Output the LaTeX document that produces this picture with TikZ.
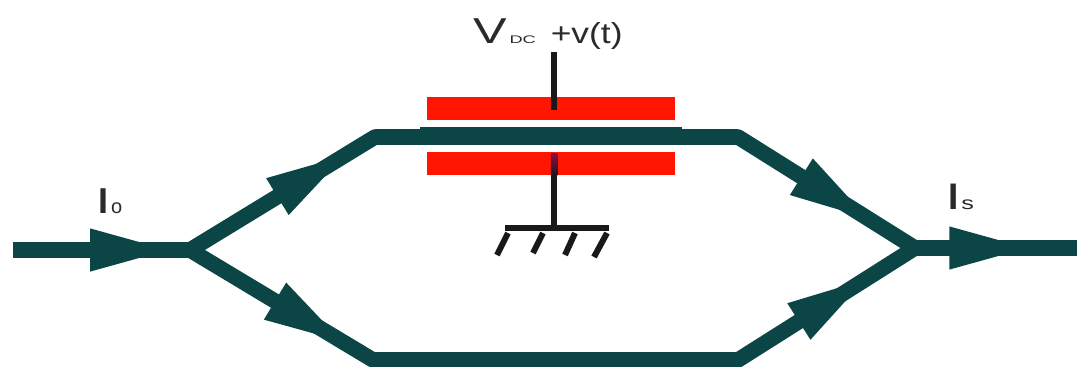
\documentclass[tikz,border=0pt]{standalone}
\usepackage{fontspec}
\setmainfont{Liberation Sans}
\usetikzlibrary{arrows.meta,decorations.markings}
\definecolor{guide}{HTML}{0C4545}
\definecolor{plate}{HTML}{FF1500}
\definecolor{lab}{HTML}{2A2A2A}
\definecolor{maroon}{HTML}{8A0F45}
\tikzset{
  x=1pt,y=-1pt,
  wire/.style={draw=guide,line width=15.5pt},
  inner/.style={wire,line cap=round},
  headat/.style={postaction={decorate,decoration={markings,
     mark=at position #1 with {\arrow[guide]{Triangle[length=84pt,width=38pt]}}}}},
  plateb/.style={fill=plate,draw=none,minimum width=248pt,minimum height=23pt,inner sep=0pt,outer sep=0pt},
  lead/.style={draw=black!90,line width=6.5pt},
  hatch/.style={draw=black!90,line width=6pt},
  txt/.style={text=lab,inner sep=0pt,outer sep=0pt,anchor=base west},
}
\newcommand{\fs}[1]{\fontsize{#1}{#1}\selectfont}
\begin{document}
\begin{tikzpicture}
\useasboundingbox (0,0) rectangle (1077,367);
\fill[white] (0,0) rectangle (1077,367);
% plates
\node[plateb] (pt) at (551,108.5) {};
\node[plateb] (pb) at (551,163.5) {};
% guide points
\coordinate (in) at (13,250);
\coordinate (jl) at (190,250);
\coordinate (tl) at (375,137);
\coordinate (tr) at (738,137);
\coordinate (bl) at (373,360);
\coordinate (br) at (738,360);
\coordinate (jr) at (915,248);
\coordinate (out) at (1077,248);
% guide
\fill[guide] (420,127) rectangle (682,138);
\draw[wire,headat=.91] (in) -- (jl);
\draw[inner,headat=.86] (jl) -- (tl);
\draw[inner,headat=.858] (jl) -- (bl);
\draw[wire,line join=round] (tl) -- (tr);
\draw[wire] (bl) -- (br);
\draw[inner,headat=.76] (tr) -- (jr);
\draw[inner,headat=.745] (br) -- (jr);
\draw[wire,headat=.73] (jr) -- (out);
% electrodes
\coordinate (vtop) at (554,52);
\coordinate (vbot) at (554,110);
\draw[lead] (vtop) -- (vbot);
\coordinate (gtop) at (554,153);
\coordinate (gmid) at (554,175);
\coordinate (gbot) at (554,226);
\shade[top color=maroon,bottom color=black!90] (550.75,153) rectangle (557.25,175);
\draw[lead] (gmid) -- (gbot);
% ground
\coordinate (ga) at (505,228);
\coordinate (gb) at (609,228);
\draw[lead] (ga) -- (gb);
\foreach \xa/\xb/\ya/\yb/\n in {508/497/233/255/1,543/533/233/253/2,575/565/233/255/3,607/594/233/257/4}{
  \coordinate (h\n a) at (\xa,\ya);
  \coordinate (h\n b) at (\xb,\yb);
  \draw[hatch] (h\n a) -- (h\n b);
}
% labels
\node[txt] (vlab) at (473,43) {\fs{36}\scalebox{1.4}[1]{V}\hspace{3pt}{\fs{11}\scalebox{1.65}[1]{DC}}\hspace{15pt}\fs{29}\scalebox{1.22}[1]{+v(t)}};
\node[txt] (io) at (98,213) {\fs{36}\textbf{I}\hspace{3pt}\fs{20}o};
\node[txt] (is) at (948,209) {\fs{37}\textbf{I}\hspace{3pt}\fs{18}\scalebox{1.4}[1]{s}};
\end{tikzpicture}
\end{document}
